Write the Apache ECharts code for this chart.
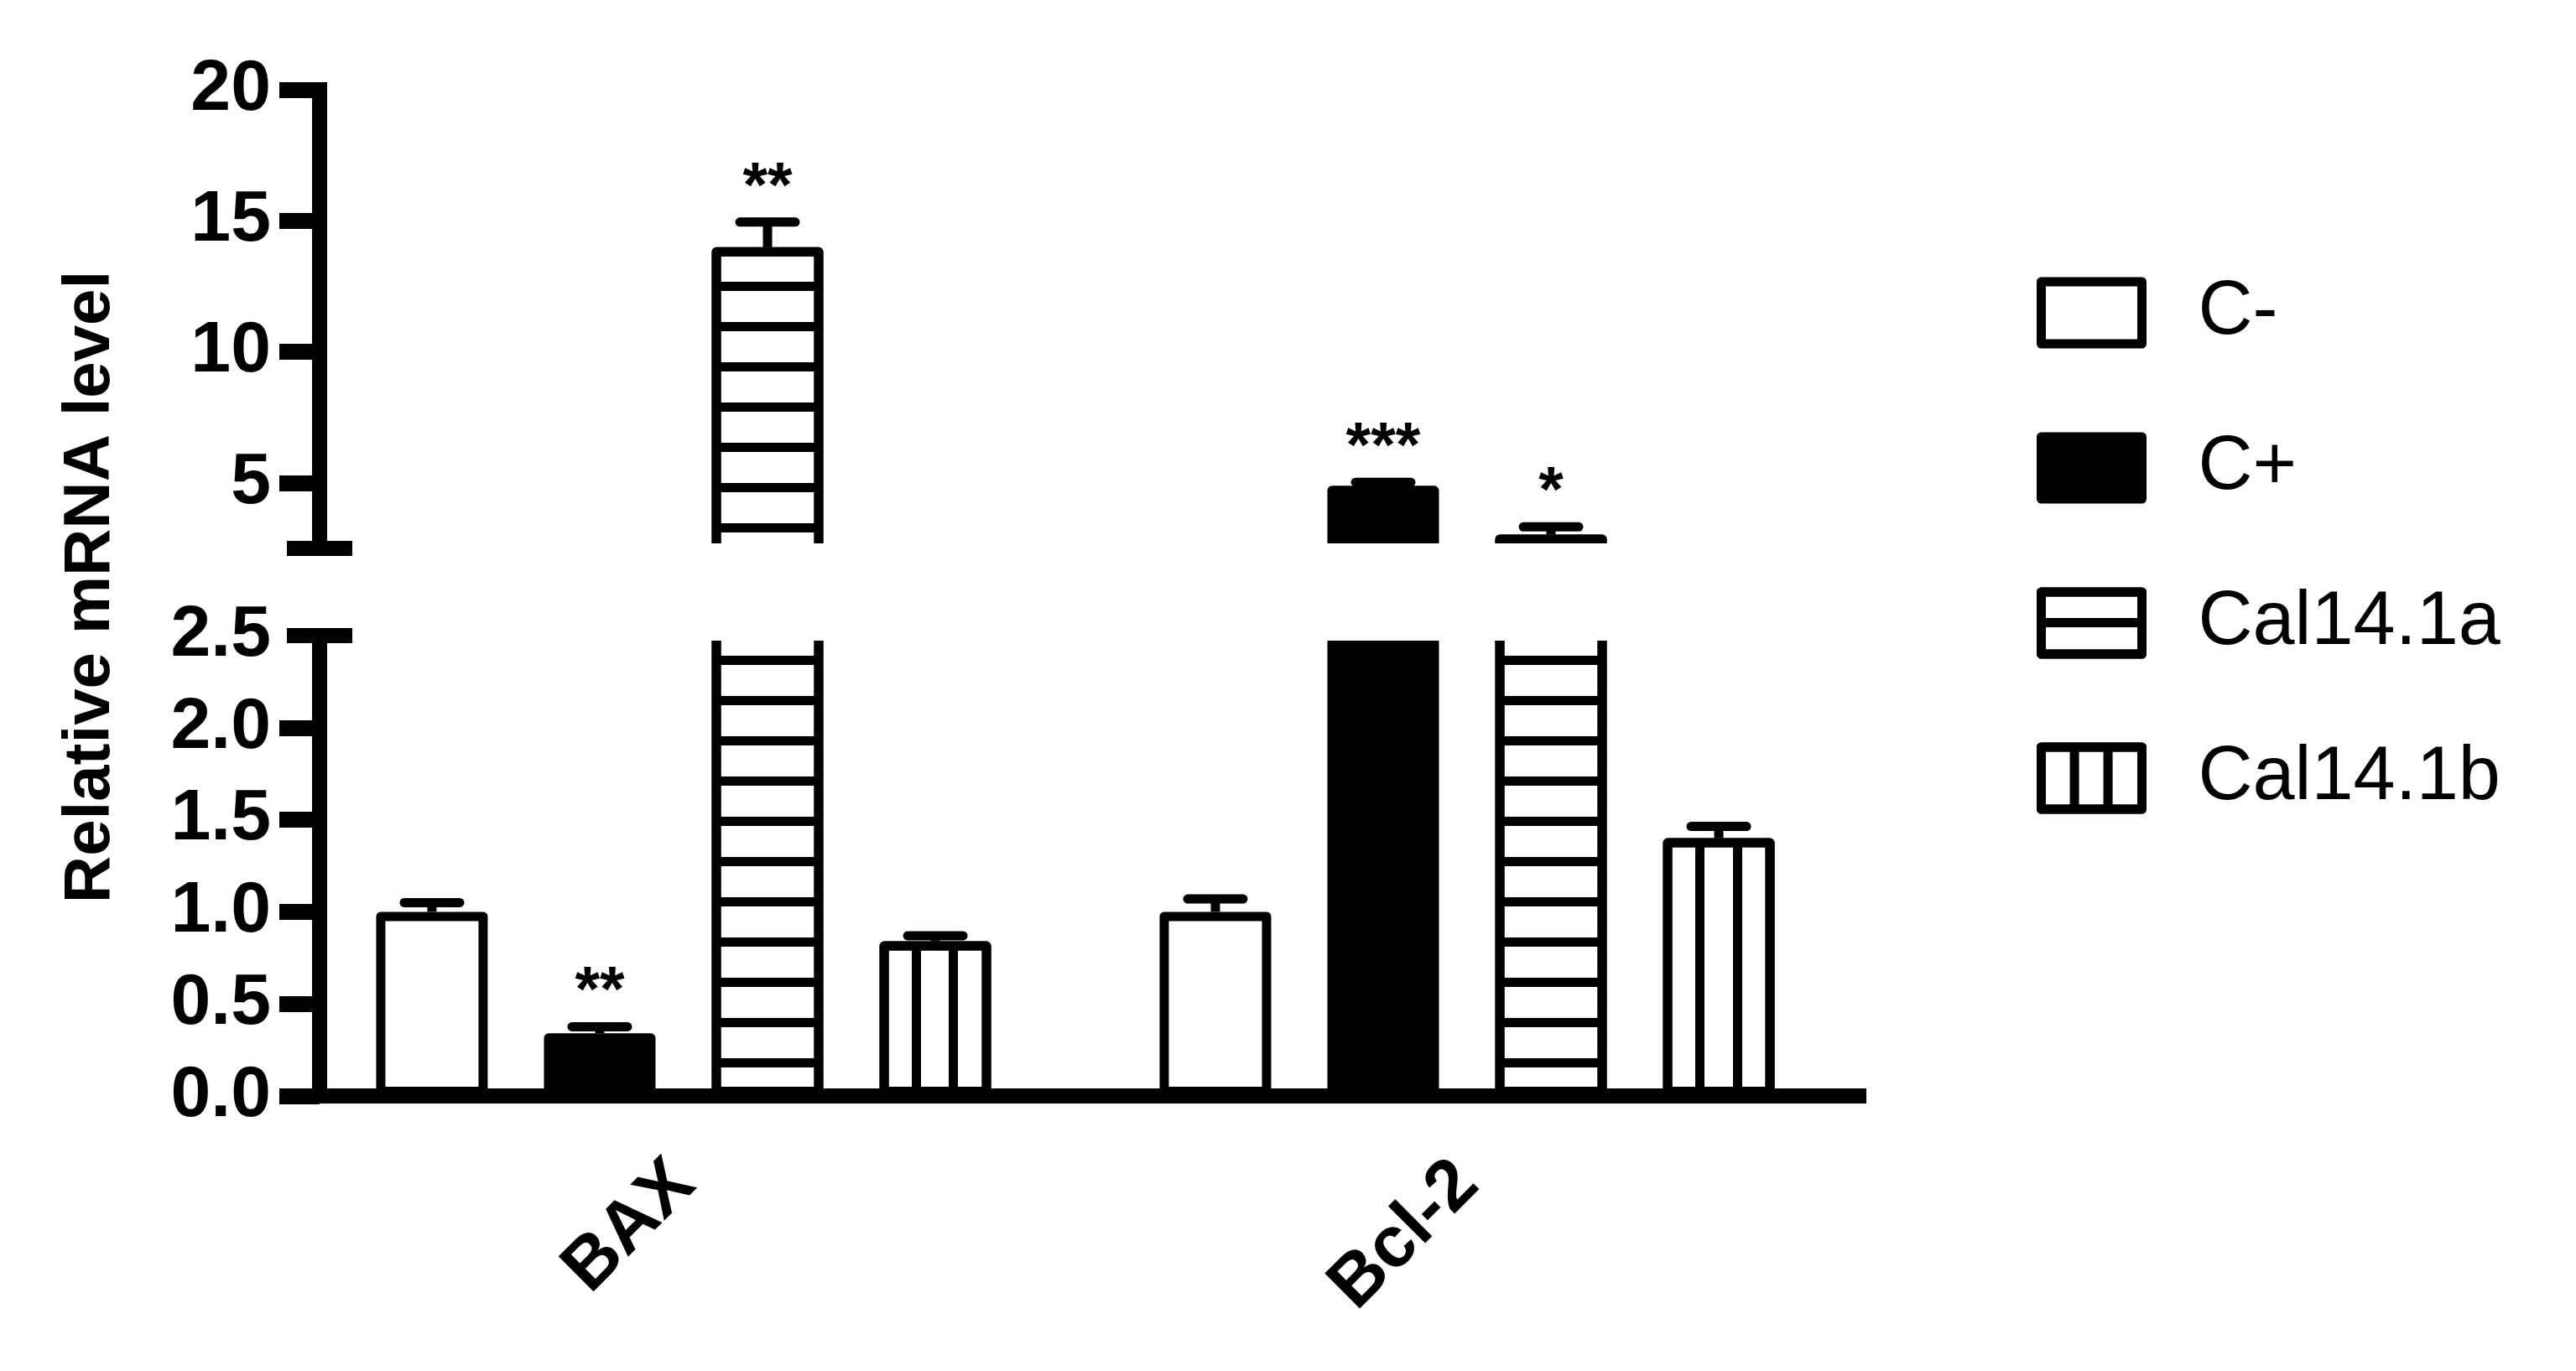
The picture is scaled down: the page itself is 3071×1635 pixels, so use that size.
<!DOCTYPE html>
<html lang="en">
<head>
    <meta charset="UTF-8">
    <title>Relative mRNA level</title>
    <script type="text/javascript" src="https://cdn.jsdelivr.net/npm/echarts@6/dist/echarts.min.js"></script>
    <style>html, body { margin: 0; padding: 0; background: #fff; }</style>
</head>
<body>
    <div id="main" style="width: 3071px; height: 1635px"></div>
    <script type="text/javascript">
        // categories and groups
        var genes = ['BAX', 'Bcl-2'];
        var groups = ['C-', 'C+', 'Cal14.1a', 'Cal14.1b'];

        // mean values, [BAX, Bcl-2]
        var cNeg = [1.0, 1.0];
        var cPos = [0.34, 4.89];
        var cal14a = [13.99, 3.03];
        var cal14b = [0.84, 1.40];

        // SEM, [BAX, Bcl-2]
        var cNegErr = [0.05, 0.07];
        var cPosErr = [0.036, 0.13];
        var cal14aErr = [0.96, 0.29];
        var cal14bErr = [0.03, 0.064];

        // significance marks
        var cNegSig = ['', ''];
        var cPosSig = ['**', '***'];
        var cal14aSig = ['**', '*'];
        var cal14bSig = ['', ''];

        // broken y axis: lower part 0..2.5, upper part 2.5..20
        var lowTicks = [0, 0.5, 1, 1.5, 2, 2.5];
        var highTicks = [5, 10, 15, 20];
        var breakAt = 2.5;
        var topMax = 20;

        var means = [cNeg, cPos, cal14a, cal14b];
        var errs = [cNegErr, cPosErr, cal14aErr, cal14bErr];
        var sigs = [cNegSig, cPosSig, cal14aSig, cal14bSig];

        var font = '"Liberation Sans", Arial, sans-serif';
        var BW = 133, GAP = '50.4%';

        function decal(dx, dy) {
            return {
                symbol: 'rect', symbolSize: 1, symbolKeepAspect: false,
                color: '#000', backgroundColor: null,
                dashArrayX: dx, dashArrayY: dy
            };
        }
        var base = { borderColor: '#000', borderWidth: 11, borderJoin: 'round' };
        function style(i, upper) {
            var s = Object.assign({}, base, { color: i === 1 ? '#000' : '#fff' });
            if (i === 2) s.decal = upper ? decal([[8, 0]], [11, 37]) : decal([[8, 0]], [0, 14, 11, 23]);
            if (i === 3) s.decal = decal([[0, 19, 11, 33, 11, 15]], [8, 0]);
            return s;
        }

        var series = [];
        groups.forEach(function (g, i) {
            series.push({
                name: g, type: 'bar', xAxisIndex: 1, yAxisIndex: 3,
                barWidth: BW, barGap: GAP, clip: true, silent: true,
                itemStyle: style(i, false),
                data: means[i]
            });
        });
        groups.forEach(function (g, i) {
            series.push({
                name: g, type: 'bar', xAxisIndex: 0, yAxisIndex: 0,
                barWidth: BW, barGap: GAP, clip: true, silent: true,
                itemStyle: style(i, true),
                data: means[i].map(function (v) { return v > breakAt ? v : '-'; })
            });
        });

        // error bars + asterisks
        var lowErr = [], highErr = [];
        groups.forEach(function (g, s) {
            genes.forEach(function (gene, c) {
                var row = [c, s, means[s][c], errs[s][c]];
                (means[s][c] > breakAt ? highErr : lowErr).push(row);
            });
        });

        function renderErr(params, api) {
            var c = api.value(0), s = api.value(1), m = api.value(2), e = api.value(3);
            var lay = api.barLayout({ count: groups.length, barWidth: BW, barGap: GAP });
            var p0 = api.coord([c, m]);
            var p1 = api.coord([c, m + e]);
            var x = p0[0] + lay[s].offsetCenter;
            var kids = [
                { type: 'line', shape: { x1: x, y1: p0[1], x2: x, y2: p1[1] },
                  style: { stroke: '#000', lineWidth: 11 } },
                { type: 'line', shape: { x1: x - 33, y1: p1[1], x2: x + 33, y2: p1[1] },
                  style: { stroke: '#000', lineWidth: 11, lineCap: 'round' } }
            ];
            var mark = sigs[s][c];
            if (mark) {
                kids.push({ type: 'text', x: x, y: p1[1] - 40,
                    style: { text: mark, fontSize: 76, fontWeight: 'bold', fontFamily: font,
                             fill: '#000', align: 'center', verticalAlign: 'middle' } });
            }
            return { type: 'group', children: kids };
        }
        series.push({ type: 'custom', xAxisIndex: 1, yAxisIndex: 3, renderItem: renderErr, data: lowErr, silent: true, z: 5 });
        series.push({ type: 'custom', xAxisIndex: 0, yAxisIndex: 0, renderItem: renderErr, data: highErr, silent: true, z: 5 });

        var labelStyle = { fontSize: 86, fontWeight: 'bold', fontFamily: font, color: '#000' };
        function yAx(grid, min, max, extra) {
            return Object.assign({
                type: 'value', gridIndex: grid, position: 'left', min: min, max: max, offset: -33,
                splitLine: { show: false },
                axisLine: { show: false },
                axisLabel: { show: false },
                axisTick: { show: false }
            }, extra);
        }
        // short end caps of the broken axis, drawn on both sides of the axis line
        function capAxis(grid, min, max, inside) {
            return yAx(grid, min, max, {
                axisTick: { show: true, inside: inside, length: 39, customValues: [breakAt],
                            lineStyle: { color: '#000', width: 18 } }
            });
        }

        var myChart = echarts.init(document.getElementById('main'));
        var option = {
            animation: false,
            backgroundColor: '#fff',
            grid: [
                { left: 348, top: 107, width: 1868, height: 547 },
                { left: 348, top: 758, width: 1868, height: 549 }
            ],
            xAxis: [
                { type: 'category', gridIndex: 0, data: genes, show: false },
                { type: 'category', gridIndex: 1, data: genes,
                  axisLine: { lineStyle: { color: '#000', width: 18, cap: 'square' } },
                  axisTick: { alignWithLabel: true, length: 48, lineStyle: { color: '#000', width: 18 } },
                  axisLabel: Object.assign({ rotate: 45, margin: 92, interval: 0 }, labelStyle) }
            ],
            yAxis: [
                yAx(0, breakAt, topMax, {
                    axisLine: { show: true, lineStyle: { color: '#000', width: 18, cap: 'square' } },
                    axisTick: { show: true, length: 48, customValues: highTicks, lineStyle: { color: '#000', width: 19 } },
                    axisLabel: Object.assign({ show: true, margin: 58, customValues: highTicks }, labelStyle)
                }),
                capAxis(0, breakAt, topMax, false),
                capAxis(0, breakAt, topMax, true),
                yAx(1, 0, breakAt, {
                    interval: 0.5,
                    axisLine: { show: true, lineStyle: { color: '#000', width: 18, cap: 'square' } },
                    axisTick: { show: true, length: 48, customValues: lowTicks.slice(0, -1), lineStyle: { color: '#000', width: 19 } },
                    axisLabel: Object.assign({ show: true, margin: 58, customValues: lowTicks,
                        formatter: function (v) { return v.toFixed(1); } }, labelStyle)
                }),
                capAxis(1, 0, breakAt, false),
                capAxis(1, 0, breakAt, true)
            ],
            legend: {
                orient: 'vertical', left: 2428, top: 328, padding: 0,
                itemWidth: 120, itemHeight: 74, itemGap: 95, icon: 'rect',
                selectedMode: false,
                textStyle: { fontSize: 90, fontFamily: font, color: '#000', lineHeight: 74, padding: [0, 0, 0, 62] },
                data: [
                    { name: 'C-', itemStyle: Object.assign({}, base, { color: '#fff' }) },
                    { name: 'C+', itemStyle: Object.assign({}, base, { color: '#000' }) },
                    { name: 'Cal14.1a', itemStyle: Object.assign({}, base, { color: '#fff', decal: decal([[8, 0]], [0, 31, 11, 32]) }) },
                    { name: 'Cal14.1b', itemStyle: Object.assign({}, base, { color: '#fff', decal: decal([[0, 34, 11, 29, 11, 35]], [8, 0]) }) }
                ]
            },
            graphic: [
                // white band hiding the bars inside the axis break
                { type: 'rect', z: 100, shape: { x: 428, y: 648, width: 1800, height: 116 }, style: { fill: '#fff' } },
                { type: 'text', x: 108, y: 700, rotation: Math.PI / 2,
                  style: { text: 'Relative mRNA level', fontSize: 78, fontWeight: 'bold', fontFamily: font,
                           fill: '#000', align: 'center', verticalAlign: 'middle' } }
            ],
            series: series
        };
        myChart.setOption(option);
    </script>
</body>
</html>
